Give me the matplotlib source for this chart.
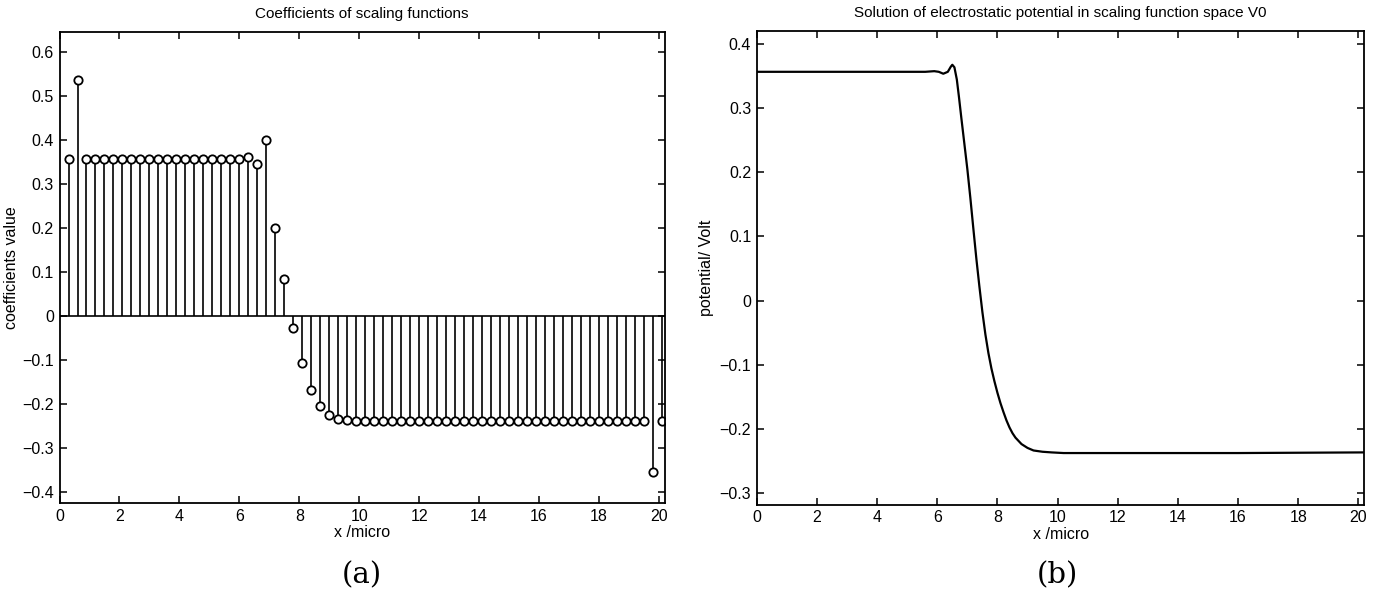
import numpy as np
import matplotlib
matplotlib.use('Agg')
import matplotlib.pyplot as plt
from matplotlib.ticker import FuncFormatter

# (a) coefficients of scaling functions, one every 0.3 micro
coef_step = 0.3
coef_values = ([0.357, 0.535] + [0.357] * 18 +
               [0.360, 0.345, 0.400, 0.200, 0.085,
                -0.027, -0.107, -0.167, -0.205, -0.225, -0.233, -0.237] +
               [-0.238] * 33 + [-0.355, -0.238])
coef_x = coef_step * np.arange(1, len(coef_values) + 1)

# (b) potential in V0
pot_x = [0, 2, 4, 5.6, 5.9, 6.05, 6.2, 6.35, 6.45, 6.5, 6.57, 6.65, 6.72,
         6.8, 6.9, 7.0, 7.1, 7.2, 7.3, 7.4, 7.5, 7.6, 7.7, 7.8, 7.9, 8.0,
         8.1, 8.2, 8.3, 8.4, 8.5, 8.6, 8.8, 9.0, 9.2, 9.5, 9.8, 10.2, 12, 16, 20.2]
pot_y = [0.357, 0.357, 0.357, 0.357, 0.358, 0.357, 0.354, 0.357, 0.365, 0.368,
         0.364, 0.345, 0.318, 0.285, 0.245, 0.205, 0.160, 0.112, 0.065, 0.022,
         -0.018, -0.053, -0.082, -0.106, -0.126, -0.144,
         -0.160, -0.174, -0.187, -0.198, -0.207, -0.214, -0.224, -0.230, -0.234,
         -0.236, -0.237, -0.238, -0.238, -0.238, -0.237]

plt.rcParams['font.family'] = ['Liberation Sans', 'DejaVu Sans']

fig = plt.figure(figsize=(13.81, 6.04), dpi=100)
ax1 = fig.add_axes([0.0431, 0.167, 0.4384, 0.780])
ax2 = fig.add_axes([0.548, 0.164, 0.440, 0.785])


def tick_text(v, pos):
    if abs(v) < 1e-9:
        return '0'
    return f'{v:g}'.replace('-', '\u2212')


fmt = FuncFormatter(tick_text)


def matlab_axes(ax, yticks):
    ax.set_xlim(0, 20.2)
    ax.set_xticks(np.arange(0, 21, 2))
    ax.set_yticks(yticks)
    ax.yaxis.set_major_formatter(fmt)
    ax.xaxis.set_major_formatter(fmt)
    ax.tick_params(direction='in', top=True, right=True, length=5, width=1.1,
                   labelsize=11.5, pad=4)
    for s in ax.spines.values():
        s.set_linewidth(1.3)


# left: stem plot
ax1.axhline(0, color='black', lw=1.2, zorder=1)
ml, sl, bl = ax1.stem(coef_x, coef_values, linefmt='k-', markerfmt='ko', basefmt=' ')
sl.set_linewidth(1.2)
ml.set_markerfacecolor('white')
ml.set_markeredgecolor('black')
ml.set_markersize(6)
ml.set_markeredgewidth(1.3)
ax1.set_ylim(-0.425, 0.645)
matlab_axes(ax1, np.round(np.arange(-0.4, 0.61, 0.1), 1))
ax1.set_title('Coefficients of scaling functions', fontsize=11, pad=10)
ax1.set_xlabel('x /micro', fontsize=11.5, labelpad=1)
ax1.set_ylabel('coefficients value', fontsize=11.5, labelpad=2)

# right: potential curve
ax2.plot(pot_x, pot_y, color='black', lw=1.6)
ax2.set_ylim(-0.319, 0.421)
matlab_axes(ax2, np.round(np.arange(-0.3, 0.41, 0.1), 1))
ax2.set_title('Solution of electrostatic potential in scaling function space V0',
              fontsize=11, pad=10)
ax2.set_xlabel('x /micro', fontsize=11.5, labelpad=1)
ax2.set_ylabel('potential/ Volt', fontsize=11.5, labelpad=4)

fig.text(0.262, 0.048, '(a)', fontsize=21, family='DejaVu Serif', ha='center', va='center')
fig.text(0.766, 0.048, '(b)', fontsize=21, family='DejaVu Serif', ha='center', va='center')

fig.savefig('out.png', dpi=100, facecolor='white')
